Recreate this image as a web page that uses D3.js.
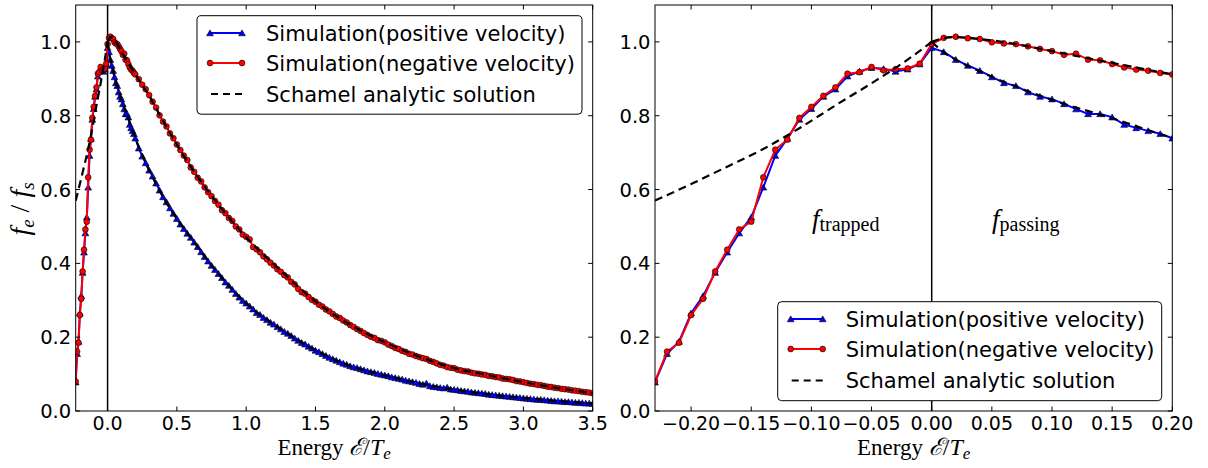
<!DOCTYPE html>
<html>
<head>
<meta charset="utf-8">
<script src="https://cdn.jsdelivr.net/npm/d3@7"></script>
<style>
    body { margin: 0; background: #fff; }
    svg { display: block; }
</style>
</head>
<body>
<svg id="chart"></svg>
<script>
// energy grid, fine part (trapped + start of passing), step 0.01
const fineEnergy = [-0.23, -0.22, -0.21, -0.20, -0.19, -0.18, -0.17, -0.16, -0.15, -0.14,
    -0.13, -0.12, -0.11, -0.10, -0.09, -0.08, -0.07, -0.06, -0.05, -0.04,
    -0.03, -0.02, -0.01, 0.00, 0.01, 0.02, 0.03, 0.04, 0.05, 0.06,
    0.07, 0.08, 0.09, 0.10, 0.11, 0.12, 0.13, 0.14, 0.15, 0.16,
    0.17, 0.18, 0.19, 0.20];

const posFine = [0.078, 0.155, 0.188, 0.265, 0.312, 0.375, 0.430, 0.482, 0.525, 0.606,
    0.692, 0.738, 0.790, 0.819, 0.852, 0.872, 0.907, 0.920, 0.930, 0.927,
    0.920, 0.926, 0.940, 0.984, 0.973, 0.952, 0.936, 0.922, 0.905, 0.889,
    0.881, 0.864, 0.852, 0.845, 0.832, 0.818, 0.805, 0.805, 0.796, 0.776,
    0.767, 0.759, 0.751, 0.739];

const negFine = [0.080, 0.161, 0.185, 0.260, 0.304, 0.378, 0.437, 0.492, 0.513, 0.633,
    0.708, 0.735, 0.794, 0.824, 0.854, 0.877, 0.914, 0.918, 0.932, 0.923,
    0.926, 0.928, 0.941, 0.994, 1.011, 1.014, 1.010, 1.008, 0.999, 0.996,
    0.994, 0.988, 0.981, 0.975, 0.965, 0.968, 0.952, 0.950, 0.940, 0.931,
    0.925, 0.922, 0.916, 0.912];

// energy grid, coarse part of the passing region
const coarseEnergy = [0.225, 0.25, 0.275, 0.3, 0.325, 0.35, 0.375, 0.4, 0.425, 0.45,
    0.475, 0.5, 0.525, 0.55, 0.575, 0.6, 0.625, 0.65, 0.675, 0.7,
    0.725, 0.75, 0.775, 0.8, 0.825, 0.85, 0.875, 0.9, 0.925, 0.95,
    0.975, 1.0, 1.025, 1.05, 1.075, 1.1, 1.125, 1.15, 1.175, 1.2,
    1.225, 1.25, 1.275, 1.3, 1.325, 1.35, 1.375, 1.4, 1.425, 1.45,
    1.475, 1.5, 1.525, 1.55, 1.575, 1.6, 1.625, 1.65, 1.675, 1.7,
    1.725, 1.75, 1.775, 1.8, 1.825, 1.85, 1.875, 1.9, 1.925, 1.95,
    1.975, 2.0, 2.025, 2.05, 2.075, 2.1, 2.125, 2.15, 2.175, 2.2,
    2.225, 2.25, 2.275, 2.3, 2.325, 2.35, 2.375, 2.4, 2.425, 2.45,
    2.475, 2.5, 2.525, 2.55, 2.575, 2.6, 2.625, 2.65, 2.675, 2.7,
    2.725, 2.75, 2.775, 2.8, 2.825, 2.85, 2.875, 2.9, 2.925, 2.95,
    2.975, 3.0, 3.025, 3.05, 3.075, 3.1, 3.125, 3.15, 3.175, 3.2,
    3.225, 3.25, 3.275, 3.3, 3.325, 3.35, 3.375, 3.4, 3.425, 3.45,
    3.475, 3.5];

const posCoarse = [0.712, 0.690, 0.672, 0.652, 0.636, 0.617, 0.598, 0.580, 0.566, 0.550,
    0.535, 0.521, 0.506, 0.494, 0.481, 0.470, 0.457, 0.445, 0.431, 0.418,
    0.406, 0.394, 0.383, 0.372, 0.361, 0.349, 0.340, 0.329, 0.318, 0.308,
    0.299, 0.292, 0.284, 0.276, 0.266, 0.261, 0.253, 0.247, 0.240, 0.235,
    0.228, 0.222, 0.215, 0.210, 0.204, 0.197, 0.191, 0.185, 0.181, 0.175,
    0.170, 0.164, 0.160, 0.155, 0.150, 0.145, 0.141, 0.137, 0.133, 0.129,
    0.126, 0.122, 0.119, 0.117, 0.114, 0.111, 0.108, 0.106, 0.104, 0.101,
    0.099, 0.097, 0.095, 0.092, 0.090, 0.088, 0.086, 0.083, 0.081, 0.079,
    0.077, 0.074, 0.072, 0.075, 0.068, 0.066, 0.065, 0.063, 0.062, 0.064,
    0.059, 0.058, 0.057, 0.055, 0.054, 0.053, 0.051, 0.050, 0.049, 0.048,
    0.047, 0.045, 0.044, 0.043, 0.042, 0.041, 0.040, 0.039, 0.038, 0.037,
    0.036, 0.035, 0.034, 0.033, 0.032, 0.031, 0.031, 0.030, 0.029, 0.028,
    0.027, 0.027, 0.026, 0.025, 0.025, 0.024, 0.023, 0.023, 0.022, 0.021,
    0.021, 0.020];

const negCoarse = [0.899, 0.884, 0.872, 0.856, 0.838, 0.822, 0.801, 0.784, 0.771, 0.752,
    0.739, 0.722, 0.707, 0.692, 0.680, 0.660, 0.648, 0.632, 0.622, 0.606,
    0.593, 0.582, 0.569, 0.559, 0.544, 0.536, 0.523, 0.515, 0.500, 0.492,
    0.478, 0.472, 0.465, 0.444, 0.438, 0.430, 0.419, 0.411, 0.402, 0.394,
    0.384, 0.377, 0.368, 0.362, 0.350, 0.343, 0.331, 0.322, 0.318, 0.309,
    0.301, 0.296, 0.288, 0.283, 0.275, 0.270, 0.263, 0.256, 0.252, 0.245,
    0.240, 0.233, 0.228, 0.222, 0.217, 0.211, 0.206, 0.201, 0.198, 0.192,
    0.190, 0.186, 0.180, 0.176, 0.171, 0.168, 0.163, 0.160, 0.155, 0.153,
    0.149, 0.146, 0.143, 0.141, 0.136, 0.133, 0.129, 0.125, 0.123, 0.119,
    0.117, 0.116, 0.112, 0.110, 0.108, 0.107, 0.104, 0.102, 0.101, 0.099,
    0.098, 0.095, 0.094, 0.092, 0.091, 0.088, 0.087, 0.086, 0.084, 0.081,
    0.080, 0.078, 0.076, 0.074, 0.073, 0.071, 0.070, 0.068, 0.066, 0.065,
    0.063, 0.062, 0.060, 0.059, 0.058, 0.056, 0.055, 0.054, 0.052, 0.051,
    0.050, 0.048];

// Schamel analytic solution
const schamelTrappedEnergy = [-0.23, -0.20, -0.17, -0.14, -0.11, -0.08, -0.05, -0.02, 0.0];
const schamelTrapped = [0.570, 0.615, 0.662, 0.710, 0.766, 0.828, 0.888, 0.952, 1.0];

const schamelPassingEnergy = [0.0, 0.01, 0.02, 0.04, 0.07, 0.1, 0.15, 0.2, 0.3, 0.4, 0.5, 0.6,
    0.8, 1.0, 1.25, 1.5, 1.75, 2.0, 2.25, 2.5, 2.75, 3.0, 3.25, 3.5];
const schamelPos = [1.0, 0.972, 0.952, 0.920, 0.879, 0.843, 0.793, 0.740, 0.653, 0.580, 0.521, 0.470,
    0.372, 0.292, 0.222, 0.165, 0.122, 0.097, 0.075, 0.058, 0.045, 0.035, 0.027, 0.020];
const schamelNeg = [1.0, 1.010, 1.013, 1.008, 0.994, 0.975, 0.943, 0.912, 0.854, 0.786, 0.722, 0.662,
    0.559, 0.471, 0.380, 0.297, 0.234, 0.186, 0.147, 0.116, 0.097, 0.078, 0.062, 0.048];

const yTicks = [0.0, 0.2, 0.4, 0.6, 0.8, 1.0];
const leftXTicks = [0.0, 0.5, 1.0, 1.5, 2.0, 2.5, 3.0, 3.5];
const rightXTicks = [-0.20, -0.15, -0.10, -0.05, 0.00, 0.05, 0.10, 0.15, 0.20];
const legendLabels = ["Simulation(positive velocity)", "Simulation(negative velocity)", "Schamel analytic solution"];

const energy = fineEnergy.concat(coarseEnergy);
const posValues = posFine.concat(posCoarse);
const negValues = negFine.concat(negCoarse);
const posSeries = energy.map((e, i) => ({ e: e, f: posValues[i] }));
const negSeries = energy.map((e, i) => ({ e: e, f: negValues[i] }));
const trappedCurve = schamelTrappedEnergy.map((e, i) => ({ e: e, f: schamelTrapped[i] }));
const posCurve = schamelPassingEnergy.map((e, i) => ({ e: e, f: schamelPos[i] }));
const negCurve = schamelPassingEnergy.map((e, i) => ({ e: e, f: schamelNeg[i] }));

const width = 1208;
const height = 468;
const plotTop = 5;
const plotBottom = 411;
const tickFont = "'DejaVu Sans', sans-serif";
const serif = "'Liberation Serif', 'DejaVu Serif', serif";

const svg = d3.select("#chart")
    .attr("width", width)
    .attr("height", height);

const panels = [
    { id: "left", x0: 75.7, x1: 592.7, domain: [-0.23, 3.5], ticks: leftXTicks, fmt: d3.format(".1f"),
      legend: { x: 197, y: 15.7, w: 385, h: 98.5, rows: [33, 63, 94], lineX: 210, textX: 266 } },
    { id: "right", x0: 655, x1: 1172.3, domain: [-0.23, 0.2], ticks: rightXTicks, fmt: d3.format(".2f"),
      legend: { x: 777.7, y: 301.7, w: 384, h: 99, rows: [319, 349, 380.5], lineX: 790.7, textX: 845.7 } }
];

const y = d3.scaleLinear().domain([0, 1.1]).range([plotBottom, plotTop]);
const triangle = d3.symbol().type(d3.symbolTriangle).size(20);

const drawMarkers = (g, data, x, kind) => {
    if (kind === "tri") {
        g.selectAll(null)
            .data(data)
            .enter()
            .append("path")
            .attr("d", triangle)
            .attr("transform", d => `translate(${x(d.e)}, ${y(d.f) + 0.8})`)
            .attr("fill", "#0000ff")
            .attr("stroke", "#000")
            .attr("stroke-width", 0.6);
    } else {
        g.selectAll(null)
            .data(data)
            .enter()
            .append("circle")
            .attr("cx", d => x(d.e))
            .attr("cy", d => y(d.f))
            .attr("r", 2.9)
            .attr("fill", "#ff0000")
            .attr("stroke", "#000")
            .attr("stroke-width", 0.6);
    }
};

panels.forEach(p => {
    const x = d3.scaleLinear().domain(p.domain).range([p.x0, p.x1]);
    const panel = svg.append("g");

    svg.append("defs")
        .append("clipPath")
        .attr("id", `clip-${p.id}`)
        .append("rect")
        .attr("x", p.x0)
        .attr("y", plotTop)
        .attr("width", p.x1 - p.x0)
        .attr("height", plotBottom - plotTop);

    const plot = panel.append("g").attr("clip-path", `url(#clip-${p.id})`);

    // vertical line at zero energy
    plot.append("line")
        .attr("x1", x(0)).attr("x2", x(0))
        .attr("y1", plotTop).attr("y2", plotBottom)
        .attr("stroke", "#000")
        .attr("stroke-width", 1.5);

    const line = d3.line().x(d => x(d.e)).y(d => y(d.f));
    const smooth = d3.line().x(d => x(d.e)).y(d => y(d.f)).curve(d3.curveMonotoneX);

    plot.append("path").datum(posSeries)
        .attr("d", line).attr("fill", "none")
        .attr("stroke", "#0000ff").attr("stroke-width", 2);
    drawMarkers(plot.append("g"), posSeries, x, "tri");

    plot.append("path").datum(negSeries)
        .attr("d", line).attr("fill", "none")
        .attr("stroke", "#ff0000").attr("stroke-width", 2);
    drawMarkers(plot.append("g"), negSeries, x, "circle");

    [trappedCurve, posCurve, negCurve].forEach(c => {
        plot.append("path").datum(c)
            .attr("d", smooth).attr("fill", "none")
            .attr("stroke", "#000").attr("stroke-width", 2.2)
            .attr("stroke-dasharray", "8,5");
    });

    // inward ticks on all sides
    const tickLen = 4.5;
    const ticks = panel.append("g").attr("stroke", "#000").attr("stroke-width", 1);
    p.ticks.forEach(t => {
        ticks.append("line").attr("x1", x(t)).attr("x2", x(t)).attr("y1", plotBottom).attr("y2", plotBottom - tickLen);
        ticks.append("line").attr("x1", x(t)).attr("x2", x(t)).attr("y1", plotTop).attr("y2", plotTop + tickLen);
    });
    yTicks.forEach(t => {
        ticks.append("line").attr("x1", p.x0).attr("x2", p.x0 + tickLen).attr("y1", y(t)).attr("y2", y(t));
        ticks.append("line").attr("x1", p.x1).attr("x2", p.x1 - tickLen).attr("y1", y(t)).attr("y2", y(t));
    });

    panel.append("rect")
        .attr("x", p.x0).attr("y", plotTop)
        .attr("width", p.x1 - p.x0).attr("height", plotBottom - plotTop)
        .attr("fill", "none").attr("stroke", "#000").attr("stroke-width", 1);

    panel.append("g")
        .selectAll("text")
        .data(p.ticks)
        .enter()
        .append("text")
        .attr("x", d => x(d))
        .attr("y", 430)
        .attr("text-anchor", "middle")
        .attr("font-family", tickFont)
        .attr("font-size", "19px")
        .text(d => p.fmt(d));

    panel.append("g")
        .selectAll("text")
        .data(yTicks)
        .enter()
        .append("text")
        .attr("x", p.x0 - 4.5)
        .attr("y", d => y(d))
        .attr("dy", "0.36em")
        .attr("text-anchor", "end")
        .attr("font-family", tickFont)
        .attr("font-size", "19.5px")
        .text(d => d3.format(".1f")(d));

    // x axis title
    const title = panel.append("text")
        .attr("x", (p.x0 + p.x1) / 2)
        .attr("y", 455)
        .attr("text-anchor", "middle")
        .attr("font-family", serif)
        .attr("font-size", "23px");
    title.append("tspan").text("Energy ");
    title.append("tspan").attr("font-style", "italic").attr("font-size", "24px").text("ℰ");
    title.append("tspan").attr("font-size", "24px").text("/");
    title.append("tspan").attr("font-style", "italic").attr("font-size", "24px").text("T");
    title.append("tspan").attr("font-style", "italic").attr("font-size", "17px").attr("dy", 4).text("e");

    // legend
    const lg = p.legend;
    const legend = panel.append("g");
    legend.append("rect")
        .attr("x", lg.x).attr("y", lg.y)
        .attr("width", lg.w).attr("height", lg.h)
        .attr("rx", 4)
        .attr("fill", "#fff")
        .attr("stroke", "#000")
        .attr("stroke-width", 1);

    const lx = d3.scaleLinear().domain([0, 1]).range([lg.lineX, lg.lineX + 32]);
    const ly = y.invert;
    legend.append("line")
        .attr("x1", lx(0)).attr("x2", lx(1)).attr("y1", lg.rows[0]).attr("y2", lg.rows[0])
        .attr("stroke", "#0000ff").attr("stroke-width", 2);
    drawMarkers(legend.append("g"), [{ e: 0, f: ly(lg.rows[0]) }, { e: 1, f: ly(lg.rows[0]) }], lx, "tri");
    legend.append("line")
        .attr("x1", lx(0)).attr("x2", lx(1)).attr("y1", lg.rows[1]).attr("y2", lg.rows[1])
        .attr("stroke", "#ff0000").attr("stroke-width", 2);
    drawMarkers(legend.append("g"), [{ e: 0, f: ly(lg.rows[1]) }, { e: 1, f: ly(lg.rows[1]) }], lx, "circle");
    legend.append("line")
        .attr("x1", lx(0)).attr("x2", lx(1)).attr("y1", lg.rows[2]).attr("y2", lg.rows[2])
        .attr("stroke", "#000").attr("stroke-width", 2.2)
        .attr("stroke-dasharray", "7,5").attr("stroke-dashoffset", -1);

    legend.selectAll(null)
        .data(legendLabels)
        .enter()
        .append("text")
        .attr("x", lg.textX)
        .attr("y", (d, i) => lg.rows[i])
        .attr("dy", "0.36em")
        .attr("font-family", tickFont)
        .attr("font-size", "21px")
        .text(d => d);
});

// y axis title
const yTitle = svg.append("text")
    .attr("transform", "translate(29, 209) rotate(-90)")
    .attr("text-anchor", "middle")
    .attr("font-family", serif)
    .attr("font-size", "28px");
yTitle.append("tspan").attr("font-style", "italic").text("f");
yTitle.append("tspan").attr("font-style", "italic").attr("font-size", "19px").attr("dy", 5).text("e");
yTitle.append("tspan").attr("dy", -5).text(" / ");
yTitle.append("tspan").attr("font-style", "italic").text("f");
yTitle.append("tspan").attr("font-style", "italic").attr("font-size", "19px").attr("dy", 5).text("s");

// region annotations
const annotate = (xPos, word) => {
    const t = svg.append("text")
        .attr("x", xPos)
        .attr("y", 228)
        .attr("font-family", serif)
        .attr("font-size", "27px");
    t.append("tspan").attr("font-style", "italic").text("f");
    t.append("tspan").attr("font-size", "20px").attr("dy", 3).text(word);
};
annotate(812, "trapped");
annotate(992, "passing");
</script>
</body>
</html>
